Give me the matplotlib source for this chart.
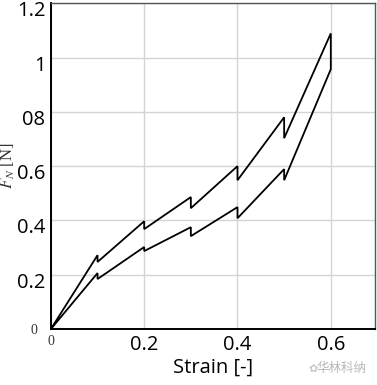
import numpy as np
import matplotlib
matplotlib.use("Agg")
import matplotlib.pyplot as plt
import matplotlib.transforms as mtransforms

# loading branch (upper) and unloading branch (lower), both left to right
strain_up = [0.0, 0.1, 0.1, 0.2, 0.2, 0.3, 0.3, 0.4, 0.4, 0.5, 0.5, 0.6, 0.6]
force_up = [0.0, 0.272, 0.247, 0.397, 0.368, 0.486, 0.445, 0.600, 0.548, 0.780, 0.703, 1.089, 0.957]
strain_low = [0.0, 0.1, 0.1, 0.2, 0.2, 0.3, 0.3, 0.4, 0.4, 0.5, 0.5, 0.6]
force_low = [0.0, 0.206, 0.184, 0.302, 0.287, 0.375, 0.342, 0.449, 0.408, 0.589, 0.548, 0.957]

xticks = [0, 0.2, 0.4, 0.6]
xtick_labels = ["0", "0.2", "0.4", "0.6"]
yticks = [0, 0.2, 0.4, 0.6, 0.8, 1.0, 1.2]
ytick_labels = ["0", "0.2", "0.4", "0.6", "08", "1", "1.2"]

plt.rcParams['font.family'] = ['Open Sans', 'DejaVu Sans']
plt.rcParams['mathtext.fontset'] = 'stix'

fig = plt.figure(figsize=(3.77, 3.85), dpi=100)
ax = fig.add_axes([0.135, 0.1455, 0.86, 0.846])

# one closed path: up the loading branch, back down the unloading branch
x = strain_up + strain_low[::-1]
y = force_up + force_low[::-1]
ax.plot(x, y, color='black', lw=1.3, solid_joinstyle='miter')

ax.set_xlim(0, 0.695)
ax.set_ylim(0, 1.2)
ax.set_xticks(xticks)
ax.set_xticklabels(xtick_labels, fontsize=14.5)
ax.set_yticks(yticks)
ax.set_yticklabels(ytick_labels, fontsize=14.5)
ax.tick_params(length=0, pad=4)
ax.grid(True, color='#d4d4d4', lw=1.0)
ax.set_axisbelow(True)

# the zero labels use a small serif face
for lab in (ax.get_xticklabels()[0], ax.get_yticklabels()[0]):
    lab.set_fontfamily('Liberation Serif')
    lab.set_fontsize(10)
    lab.set_color('#333333')
ax.get_yticklabels()[0].set_transform(
    ax.get_yticklabels()[0].get_transform()
    + mtransforms.ScaledTranslation(-6 / 72, 0, fig.dpi_scale_trans))

# the other y labels sit a little below their grid lines
shift = mtransforms.ScaledTranslation(0, -4 / 72, fig.dpi_scale_trans)
for lab in ax.get_yticklabels()[1:]:
    lab.set_transform(lab.get_transform() + shift)

for side in ['left', 'bottom']:
    ax.spines[side].set_color('black')
    ax.spines[side].set_linewidth(1.4)
for side in ['top', 'right']:
    ax.spines[side].set_color('#555555')
    ax.spines[side].set_linewidth(1.0)

ax.set_xlabel("Strain [-]", fontsize=14.5, labelpad=2)
ax.set_ylabel(r"$F_N$ [N]", fontsize=12, family='Liberation Serif', color='#333333')
ax.yaxis.set_label_coords(-0.105, 0.5)

fig.text(0.905, 0.042, "华林科纳", fontsize=9, color='#b8b8b8',
         family=['Noto Sans CJK SC', 'DejaVu Sans'], ha='center', va='center')
fig.text(0.83, 0.042, "✿", fontsize=8, color='#c8c8c8',
         family=['DejaVu Sans'], ha='center', va='center')

fig.savefig("out.png", dpi=100)
